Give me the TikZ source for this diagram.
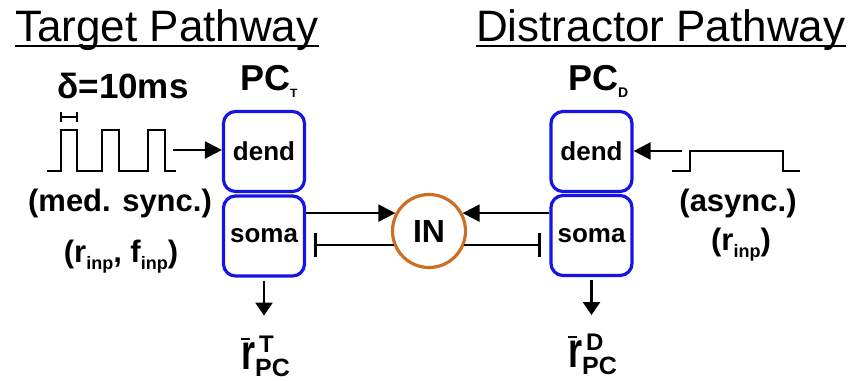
\documentclass[tikz,border=0pt]{standalone}
\usepackage{fontspec}
\setmainfont{Liberation Sans}
\usetikzlibrary{arrows.meta,calc}
\definecolor{boxblue}{RGB}{20,20,230}
\definecolor{inorange}{RGB}{205,110,35}
\newcommand{\fs}[1]{\fontsize{#1}{#1}\selectfont}
\newcommand{\lowsub}[1]{\raisebox{-7pt}{\fs{18}#1}}
\newcommand{\rbarlabel}[1]{\bfseries\rlap{\rule[29pt]{9pt}{2.2pt}}\scalebox{0.72}[1]{\fs{50}r}\rlap{\hspace{4pt}\raisebox{17pt}{\fs{24}#1}}\raisebox{-7pt}{\fs{25}PC}}
\begin{document}
\begin{tikzpicture}[x=1pt,y=-1pt,
  comp/.style={draw=boxblue, line width=3.2pt, rounded corners=12pt, minimum width=81pt, minimum height=80pt, inner sep=0pt, font=\fs{26}\bfseries},
  lbl/.style={inner sep=0pt, font=\bfseries},
  ttl/.style={inner sep=0pt, anchor=base west, font=\fs{44}},
  wire/.style={line width=2.3pt},
  tip/.style={-{Triangle[length=17pt,width=17pt]}},
  downtip/.style={-{Triangle[length=13pt,width=17pt]}},
  inhib/.style={-{Bar[width=24pt,line width=3pt]}},
  sig/.style={line width=2.6pt, line join=miter}]
\useasboundingbox (0,0) rectangle (850,380);

% titles
\node[ttl] (t1) at (15,41) {Target Pathway};
\node[ttl] (t2) at (476,41) {Distractor Pathway};
\draw[line width=2.5pt] ([yshift=-5pt]t1.base west) -- ([yshift=-5pt]t1.base east);
\draw[line width=2.5pt] ([yshift=-5pt]t2.base west) -- ([yshift=-5pt]t2.base east);

% cells
\node[comp] (dendT) at (264,151.5) {dend};
\node[comp] (somaT) at (264,236) {soma};
\node[comp] (dendD) at (591.5,151.5) {dend};
\node[comp] (somaD) at (591.5,235.5) {soma};
\node[lbl, anchor=base west] (pcT) at (240,90) {\fs{36}PC\raisebox{-7pt}{\fs{12}T}};
\node[lbl, anchor=base west] (pcD) at (568,90) {\fs{36}PC\raisebox{-7pt}{\fs{14}D}};

% interneuron
\node[circle, draw=inorange, line width=3.2pt, minimum size=73pt, inner sep=0pt, font=\fs{32}\bfseries] (IN) at (429,231) {IN};

% target input
\node[lbl, anchor=base] (delta) at (123,98) {\fs{35}δ=10ms};
\draw[sig] (47,171) -- (61,171) -- (61,130) -- (77,130) -- (77,171) -- (102,171) -- (102,130) -- (119,130) -- (119,171) -- (148,171) -- (148,130) -- (165,130) -- (165,171) -- (176,171);
\draw[line width=2.2pt] (61,112) -- (61,122) (77,112) -- (77,122) (61,117) -- (77,117);
\node[lbl, anchor=base] (medsync) at (120,211) {\fs{31}(med. sync.)};
\node[lbl, anchor=base] (rfinp) at (121,262) {\fs{31}(r\lowsub{inp}, f\lowsub{inp})};
\coordinate (pinT) at (173,150);
\draw[wire,tip] (pinT) -- (dendT.west |- pinT);

% distractor input
\draw[sig] (672,171) -- (690,171) -- (690,151) -- (783,151) -- (783,171) -- (800,171);
\node[lbl, anchor=base] (async) at (738,211) {\fs{31}(async.)};
\node[lbl, anchor=base] (rinp) at (741,250) {\fs{31}(r\lowsub{inp})};
\coordinate (pinD) at (682,151);
\draw[wire,tip] (pinD) -- (dendD.east |- pinD);

% soma <-> IN
\draw[wire,tip] (somaT.east |- IN.152) -- (IN.152);
\draw[wire,inhib] (IN.202) -- ($(somaT.east |- IN.202)+(8,0)$);
\draw[wire,tip] (somaD.west |- IN.28) -- (IN.28);
\draw[wire,inhib] (IN.-22) -- ($(somaD.west |- IN.-22)+(-8,0)$);

% outputs
\node[lbl, anchor=base west] (rT) at (241,369) {\rbarlabel{T}};
\node[lbl, anchor=base west] (rD) at (568,367) {\rbarlabel{D}};
\coordinate (outT) at ($(somaT.south)+(0,38)$);
\coordinate (outD) at ($(somaD.south)+(0,38)$);
\draw[wire,downtip] ([yshift=-3pt]somaT.south) -- (outT);
\draw[wire,downtip] ([yshift=-3pt]somaD.south) -- (outD);
\end{tikzpicture}
\end{document}
